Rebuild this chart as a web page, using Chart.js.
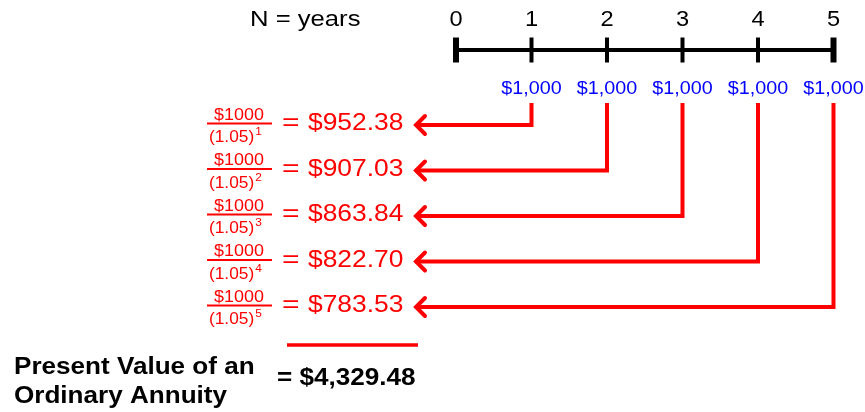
<!DOCTYPE html>
<html>
<head>
<meta charset="utf-8">
<style>
  html, body { margin: 0; padding: 0; background: #fff; }
  canvas { display: block; }
</style>
</head>
<body>
<canvas id="pvChart" width="865" height="412"></canvas>
<script src="https://cdn.jsdelivr.net/npm/chart.js@4.4.1/dist/chart.umd.min.js"></script>
<script>
// timeline data
const years = [0, 1, 2, 3, 4, 5];
const payYears = [1, 2, 3, 4, 5];
const payments = [1000, 1000, 1000, 1000, 1000];
const rateLabel = '1.05';
const presentValues = [952.38, 907.03, 863.84, 822.70, 783.53];
const totalLabel = '= $4,329.48';
const titleLines = ['Present Value of an', 'Ordinary Annuity'];

// layout (scale units: 1 year on x, 1 row on y)
const X_MIN = -456 / 75.5;
const X_MAX = X_MIN + 865 / 75.5;
const Y_MIN = -125 / 45.5 + 1;
const Y_MAX = Y_MIN + 412 / 45.5;
const LINE_Y = Y_MIN + 50 / 45.5;
const ARROW_TOP = Y_MIN + 103 / 45.5;
const TIP_X = X_MIN + 415 / 75.5;
const SUM_Y = Y_MIN + 345 / 45.5;
const SUM_X0 = X_MIN + 287 / 75.5;
const SUM_X1 = X_MIN + 418 / 75.5;

const FONT = "'Liberation Sans', Arial, Helvetica, sans-serif";
const RED = '#ff0000';
const BLUE = '#0000ff';

function fmtMoney(v, dec) {
    return '$' + v.toLocaleString('en-US', { minimumFractionDigits: dec, maximumFractionDigits: dec });
}

function drawText(ctx, s, x, y, font, color, align, sx) {
    ctx.save();
    ctx.font = font;
    ctx.fillStyle = color;
    ctx.textAlign = 'left';
    ctx.textBaseline = 'alphabetic';
    const w = ctx.measureText(s).width * sx;
    const left = align === 'center' ? x - w / 2 : (align === 'right' ? x - w : x);
    ctx.translate(left, y);
    ctx.scale(sx, 1);
    ctx.fillText(s, 0, 0);
    ctx.restore();
    return w;
}

const arrowDatasets = payYears.map((yr, i) => ({
    type: 'line',
    data: [
        { x: yr, y: ARROW_TOP },
        { x: yr, y: i + 1 },
        { x: TIP_X, y: i + 1 }
    ],
    borderColor: RED,
    borderWidth: 4,
    borderJoinStyle: 'miter',
    pointRadius: 0,
    tension: 0,
    clip: false,
    isArrow: true
}));

const labelsPlugin = {
    id: 'labels',
    afterDatasetsDraw(chart) {
        const ctx = chart.ctx;
        const xs = chart.scales.x, ys = chart.scales.y;

        // arrow heads
        chart.data.datasets.forEach((ds, di) => {
            if (!ds.isArrow) return;
            const pts = chart.getDatasetMeta(di).data;
            const p = pts[pts.length - 1];
            ctx.save();
            ctx.strokeStyle = RED;
            ctx.lineWidth = 4;
            ctx.lineJoin = 'miter';
            ctx.lineCap = 'round';
            ctx.beginPath();
            ctx.moveTo(p.x + 10, p.y - 9);
            ctx.lineTo(p.x + 1, p.y);
            ctx.lineTo(p.x + 10, p.y + 9);
            ctx.stroke();
            ctx.restore();
        });

        // top labels
        drawText(ctx, 'N = years', 250, 26, '22.5px ' + FONT, '#000', 'left', 1.14);
        years.forEach(yr => {
            drawText(ctx, String(yr), xs.getPixelForValue(yr), 26, '22.5px ' + FONT, '#000', 'center', 1.05);
        });
        payYears.forEach((yr, i) => {
            drawText(ctx, fmtMoney(payments[i], 0), xs.getPixelForValue(yr), 94, '17.5px ' + FONT, BLUE, 'center', 1.13);
        });

        // discounted values
        presentValues.forEach((pv, i) => {
            const ry = ys.getPixelForValue(i + 1);
            const fx = 239;
            drawText(ctx, fmtMoney(payments[i], 0).replace(',', ''), fx, ry - 5.5, '16px ' + FONT, RED, 'center', 1.12);
            ctx.save();
            ctx.fillStyle = RED;
            ctx.fillRect(207, ry - 2.5, 65, 2);
            ctx.restore();
            ctx.save();
            ctx.font = '16px ' + FONT;
            const wd = ctx.measureText('(' + rateLabel + ')').width * 1.08;
            ctx.restore();
            const dl = 209;
            drawText(ctx, '(' + rateLabel + ')', dl, ry + 17, '16px ' + FONT, RED, 'left', 1.08);
            drawText(ctx, String(i + 1), dl + wd + 1, ry + 10, '11px ' + FONT, RED, 'left', 1.08);
            drawText(ctx, '=', 282, ry + 5, '24px ' + FONT, RED, 'left', 1.25);
            drawText(ctx, fmtMoney(pv, 2), 308, ry + 5, '24px ' + FONT, RED, 'left', 1.1);
        });

        // total
        drawText(ctx, titleLines[0], 14, 374, 'bold 23.5px ' + FONT, '#000', 'left', 1.11);
        drawText(ctx, titleLines[1], 14, 403, 'bold 23.5px ' + FONT, '#000', 'left', 1.11);
        drawText(ctx, totalLabel, 277, 385, 'bold 23.5px ' + FONT, '#000', 'left', 1.11);
    }
};

new Chart(document.getElementById('pvChart'), {
    type: 'line',
    data: {
        datasets: [
            {
                data: [{ x: years[0], y: LINE_Y }, { x: years[years.length - 1], y: LINE_Y }],
                borderColor: '#000',
                borderWidth: 4,
                pointRadius: 0,
                clip: false
            },
            {
                data: years.map(yr => ({ x: yr, y: LINE_Y })),
                showLine: false,
                pointStyle: 'line',
                pointRotation: 90,
                pointRadius: 12.5,
                pointBorderColor: '#000',
                pointBorderWidth: years.map((yr, i) => (i === 0 || i === years.length - 1) ? 6 : 4),
                clip: false
            },
            ...arrowDatasets,
            {
                data: [{ x: SUM_X0, y: SUM_Y }, { x: SUM_X1, y: SUM_Y }],
                borderColor: RED,
                borderWidth: 3.5,
                pointRadius: 0,
                clip: false
            }
        ]
    },
    options: {
        responsive: false,
        animation: false,
        layout: { padding: 0, autoPadding: false },
        plugins: { legend: { display: false }, tooltip: { enabled: false } },
        scales: {
            x: { type: 'linear', min: X_MIN, max: X_MAX, display: false },
            y: { type: 'linear', min: Y_MIN, max: Y_MAX, reverse: true, display: false }
        }
    },
    plugins: [labelsPlugin]
});
</script>
</body>
</html>
